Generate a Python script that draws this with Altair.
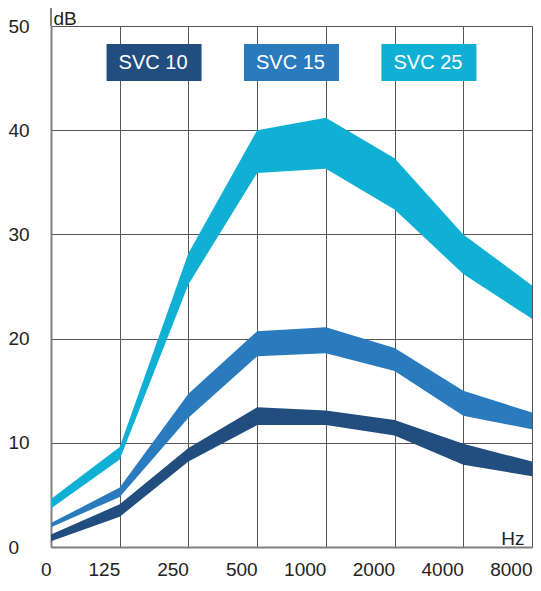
import altair as alt
import pandas as pd

freq_labels = ["0", "125", "250", "500", "1000", "2000", "4000", "8000"]
series = ["SVC 10", "SVC 15", "SVC 25"]
colors = ["#214e7f", "#2a7bbd", "#10b0d5"]
db_ticks = [0, 10, 20, 30, 40, 50]

svc10_upper = [1.2, 4.1, 9.5, 13.4, 13.1, 12.2, 9.9, 8.2]
svc10_lower = [0.55, 2.9, 8.2, 11.7, 11.7, 10.7, 7.9, 6.8]
svc15_upper = [2.3, 5.7, 14.7, 20.7, 21.1, 19.1, 15.0, 12.9]
svc15_lower = [1.9, 4.8, 12.4, 18.3, 18.6, 16.9, 12.6, 11.3]
svc25_upper = [4.6, 9.6, 28.2, 40.0, 41.2, 37.3, 30.0, 25.1]
svc25_lower = [3.7, 8.4, 25.2, 35.9, 36.3, 32.4, 26.2, 21.9]

uppers = [svc10_upper, svc15_upper, svc25_upper]
lowers = [svc10_lower, svc15_lower, svc25_lower]

rows = []
for s, up, lo in zip(series, uppers, lowers):
    for i, (u, l) in enumerate(zip(up, lo)):
        rows.append({"series": s, "idx": i, "upper": u, "lower": l})
df = pd.DataFrame(rows)

leg = pd.DataFrame({"series": series, "i": list(range(len(series)))})

FONT = "Liberation Sans"
TXT = "#222222"
W, H = 481, 521
PL, PR, PT, PB = 43, 1, 18, 34

label_expr = "[" + ",".join(f"'{l}'" for l in freq_labels) + "][datum.value]"

color_scale = alt.Scale(domain=series, range=colors)

x_enc = alt.X(
    "idx:Q",
    scale=alt.Scale(domain=[0, len(freq_labels) - 1], nice=False, zero=False),
    axis=alt.Axis(
        values=list(range(len(freq_labels))),
        labelExpr=label_expr,
        grid=True, gridColor="#555555", gridWidth=1,
        domainColor="#808080", domainWidth=2,
        ticks=False,
        labelAlign="right", labelBaseline="top", labelPadding=13,
        labelFlush=False, labelFontSize=19, labelFont=FONT, labelColor=TXT,
        title="Hz", titleX=W - 8, titleY=-3, titleAlign="right",
        titleBaseline="alphabetic", titleFontSize=19, titleFontWeight="normal",
        titleFont=FONT, titleColor=TXT,
    ),
)

y_enc = alt.Y(
    "upper:Q",
    scale=alt.Scale(domain=[0, 50], nice=False),
    axis=alt.Axis(
        values=db_ticks,
        grid=True, gridColor="#555555", gridWidth=1,
        domainColor="#808080", domainWidth=2,
        ticks=False,
        labelAlign="left", labelBaseline="middle", labelPadding=PL,
        labelFontSize=19, labelFont=FONT, labelColor=TXT,
        title="dB", titleAngle=0, titleX=2, titleY=-2, titleAlign="left",
        titleBaseline="alphabetic", titleFontSize=19, titleFontWeight="normal",
        titleFont=FONT, titleColor=TXT,
    ),
)

bands = alt.Chart(df).mark_area(opacity=1, interpolate="linear").encode(
    x=x_enc,
    y=y_enc,
    y2="lower:Q",
    color=alt.Color("series:N", scale=color_scale, legend=None),
)

axis_ext = alt.Chart(leg).mark_rule(color="#808080", strokeWidth=2).encode(
    x=alt.value(0), y=alt.value(-PT), y2=alt.value(0)
)

leg_base = alt.Chart(leg).transform_calculate(lx="1.5 + 2 * datum.i")

boxes = leg_base.mark_point(
    shape="M-1,-0.3895H1V0.3895H-1Z", filled=True, opacity=1, size=9025, strokeWidth=0
).encode(
    x=alt.X("lx:Q"),
    y=alt.value(36.5),
    color=alt.Color("series:N", scale=color_scale, legend=None),
)

labels = leg_base.mark_text(
    color="white", fontSize=20, font=FONT, align="center", baseline="middle", dx=-1
).encode(
    x=alt.X("lx:Q"),
    y=alt.value(37),
    text="series:N",
)

chart = alt.layer(bands, axis_ext, boxes, labels).properties(
    width=W, height=H,
    autosize=alt.AutoSizeParams(type="none"),
    padding={"left": PL, "top": PT, "right": PR, "bottom": PB},
    background="white",
).configure_view(strokeWidth=0)

chart.save("out.html", embed_options={"renderer": "svg", "actions": False})
